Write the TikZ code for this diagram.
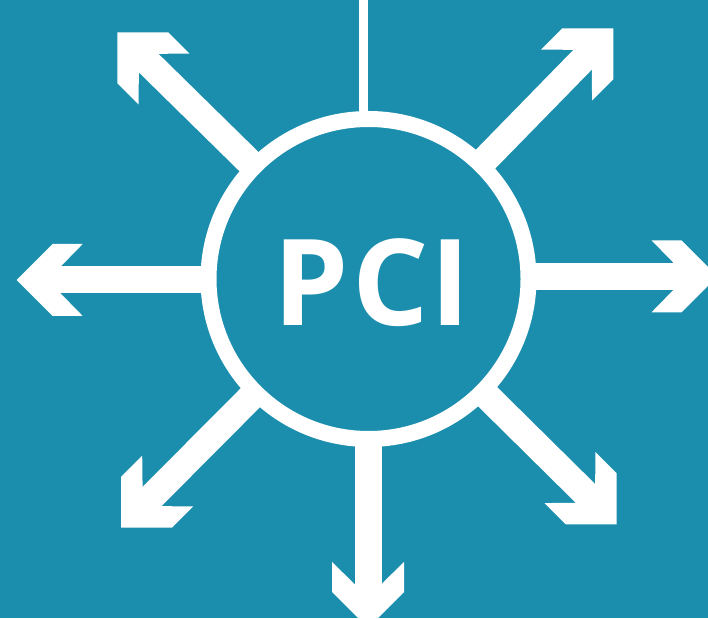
\documentclass[tikz,border=0pt]{standalone}
\usepackage{fontspec}
\setmainfont{Open Sans}
\definecolor{bg}{RGB}{27,142,174}
\tikzset{
  hub/.style={circle, draw=white, fill=bg, line width=16pt, minimum size=320pt, inner sep=0pt},
  hubtext/.style={text=white, inner sep=0pt, font=\fontsize{120}{120}\selectfont\bfseries},
  shaft/.style={draw=white, line width=27pt, shorten >=40pt, shorten <=-4pt},
  thinline/.style={draw=white, line width=8.5pt, shorten >=-4pt},
  headpic/.pic={\fill[white] (0,0) -- (-36,36) -- (-66,36) -- (-44,13.5) -- (-44,-13.5) -- (-66,-36) -- (-36,-36) -- cycle;}
}
\begin{document}
\begin{tikzpicture}[x=1pt,y=1pt]
\useasboundingbox (0,0) rectangle (708,618);
\clip (0,0) rectangle (708,618);
\fill[bg] (0,0) rectangle (708,618);

% central hub
\node[hub] (pci) at (368.5,339) {};
\node[hubtext] (pcilabel) at (371.8,335) {P\kern4pt C\kern1pt I};

% arrow tips
\coordinate (tl) at (117.3,585.7);
\coordinate (tr) at (613.3,589.7);
\coordinate (lt) at (16.7,338);
\coordinate (rt) at (717.5,341.7);
\coordinate (bt) at (368,-10);
\coordinate (bl) at (121,90.3);
\coordinate (br) at (616.7,93.7);
\coordinate (tp) at (363.5,630);

% thin line upwards
\draw[thinline] (tp) -- (pci.north -| tp);

% shafts
\draw[shaft] (pci) -- (tl);
\draw[shaft] (pci) -- (tr);
\draw[shaft] (pci) -- (bl);
\draw[shaft] (pci) -- (br);
\draw[shaft] (pci.west |- lt) -- (lt);
\draw[shaft] (pci.east |- rt) -- (rt);
\draw[shaft] (pci.south -| bt) -- (bt);

% heads
\pic[rotate=135] at (tl) {headpic};
\pic[rotate=45] at (tr) {headpic};
\pic[rotate=225] at (bl) {headpic};
\pic[rotate=315] at (br) {headpic};
\pic[rotate=180] at (lt) {headpic};
\pic at (rt) {headpic};
\pic[rotate=270] at (bt) {headpic};
\end{tikzpicture}
\end{document}
